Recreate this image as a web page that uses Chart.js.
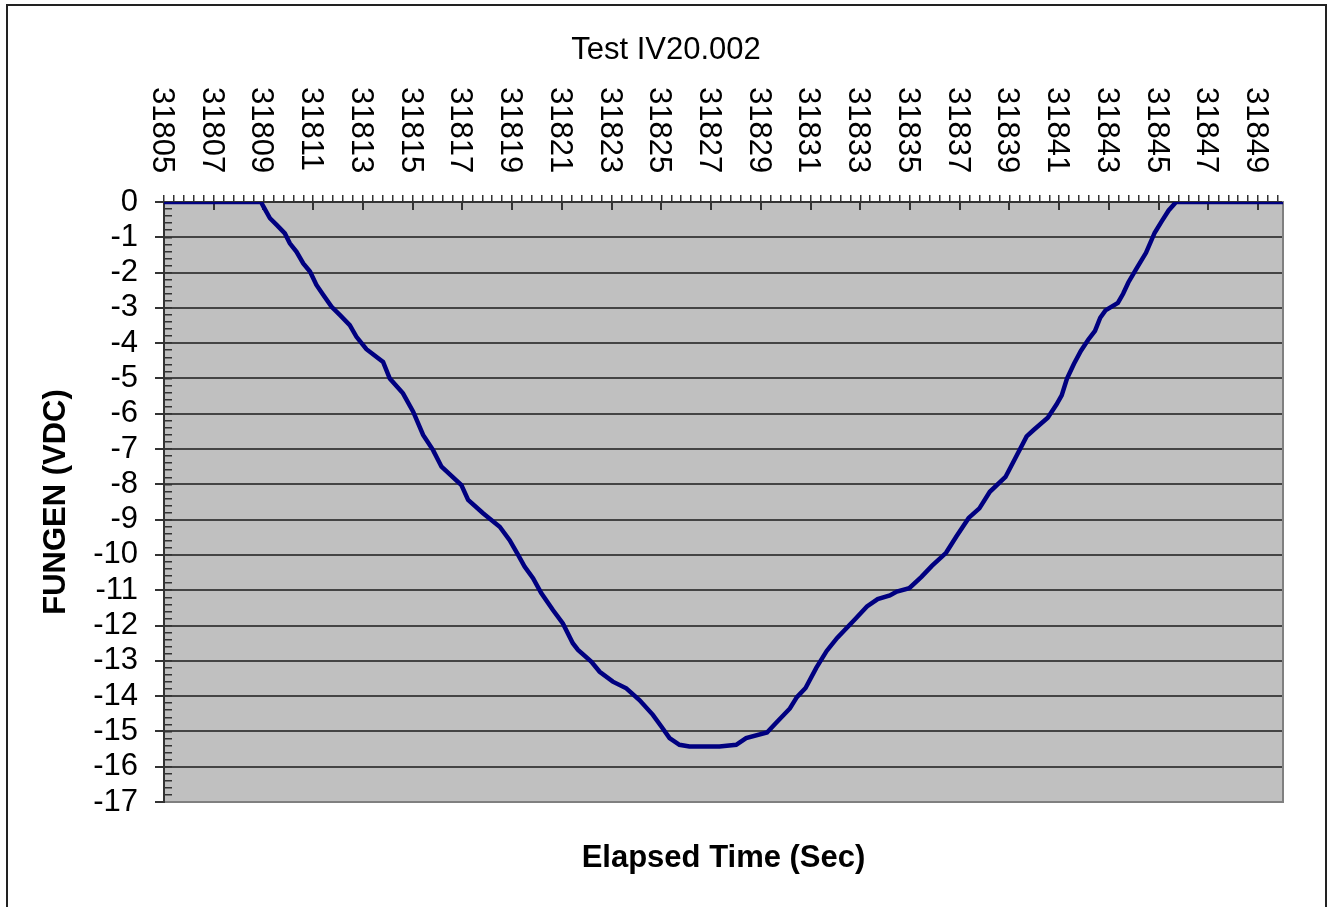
<!DOCTYPE html>
<html>
<head>
<meta charset="utf-8">
<title>Test IV20.002</title>
<script src="https://cdn.jsdelivr.net/npm/chart.js@4.4.0/dist/chart.umd.min.js"></script>
<style>
  body { margin: 0; background: #fff; }
  canvas { display: block; }
</style>
</head>
<body>
<canvas id="fungenChart" width="1332" height="907"></canvas>
<script>
// values (elapsed time in sec / FUNGEN in VDC)
const timeValues = [
  31805, 31807, 31808.9, 31809.0, 31809.26, 31809.53, 31809.86, 31810.06, 31810.33, 31810.6,
  31810.87, 31811.13, 31811.4, 31811.74, 31812.07, 31812.47, 31812.74, 31813.14, 31813.81, 31814.08,
  31814.61, 31815.02, 31815.42, 31815.82, 31816.16, 31816.96, 31817.23, 31817.83, 31818.5, 31818.9,
  31819.24, 31819.5, 31819.84, 31820.17, 31820.64, 31821.04, 31821.44, 31821.65, 31822.18, 31822.52,
  31823.05, 31823.59, 31824.12, 31824.66, 31825.0, 31825.33, 31825.73, 31826.13, 31827.34, 31828.01,
  31828.41, 31829.25, 31829.6, 31830.17, 31830.45, 31830.8, 31831.23, 31831.65, 31832.07, 31832.78,
  31833.27, 31833.7, 31834.19, 31834.47, 31834.97, 31835.46, 31835.88, 31836.45, 31836.87, 31837.36,
  31837.79, 31838.21, 31838.84, 31839.27, 31839.69, 31839.97, 31840.54, 31840.89, 31841.1, 31841.31,
  31841.59, 31841.87, 31842.16, 31842.44, 31842.65, 31842.86, 31843.36, 31843.57, 31843.78, 31844.13,
  31844.49, 31844.84, 31845.12, 31845.4, 31845.7, 31847, 31850
];
const fungenValues = [
  0, 0, 0, -0.13, -0.46, -0.65, -0.89, -1.17, -1.41, -1.74,
  -1.97, -2.35, -2.63, -2.97, -3.2, -3.49, -3.82, -4.17, -4.53, -5.0,
  -5.42, -5.94, -6.6, -7.03, -7.5, -8.02, -8.44, -8.82, -9.2, -9.58,
  -10.0, -10.33, -10.66, -11.08, -11.56, -11.94, -12.5, -12.69, -13.02, -13.31,
  -13.59, -13.78, -14.11, -14.53, -14.86, -15.19, -15.38, -15.43, -15.43, -15.38,
  -15.19, -15.03, -14.77, -14.35, -14.03, -13.77, -13.2, -12.72, -12.35, -11.83,
  -11.46, -11.25, -11.15, -11.04, -10.94, -10.62, -10.31, -9.94, -9.47, -8.95,
  -8.68, -8.21, -7.79, -7.21, -6.64, -6.46, -6.11, -5.74, -5.48, -5.01,
  -4.59, -4.22, -3.91, -3.65, -3.28, -3.07, -2.86, -2.6, -2.28, -1.86,
  -1.44, -0.87, -0.55, -0.24, 0, 0, 0
];
const xTickValues = [
  31805, 31807, 31809, 31811, 31813, 31815, 31817, 31819, 31821, 31823, 31825, 31827,
  31829, 31831, 31833, 31835, 31837, 31839, 31841, 31843, 31845, 31847, 31849
];
const yTickValues = [0, -1, -2, -3, -4, -5, -6, -7, -8, -9, -10, -11, -12, -13, -14, -15, -16, -17];

const FONT = "'Liberation Sans', Arial, sans-serif";
const X_MIN = 31805, X_MAX = 31850;
const Y_MIN = -17, Y_MAX = 0;
const AXIS_DARK = '#333333';
const GRID_DARK = '#444444';
const PLOT_EDGE = '#808080';
const TITLE_SIZE = 31;
const TITLE_PAD = 26;

// grey plot area and the outer frame
const framePlugin = {
  id: 'frame',
  beforeDraw(chart) {
    const { ctx, chartArea } = chart;
    ctx.save();
    ctx.fillStyle = '#C0C0C0';
    ctx.fillRect(chartArea.left, chartArea.top, chartArea.right - chartArea.left, chartArea.bottom - chartArea.top);
    ctx.strokeStyle = '#222222';
    ctx.lineWidth = 2;
    ctx.strokeRect(7, 5, 1319, 1000);
    ctx.restore();
  }
};

// top axis labels, turned 90deg clockwise like the original
const topLabelsPlugin = {
  id: 'topLabels',
  afterDraw(chart) {
    const scale = chart.scales.x;
    const ctx = chart.ctx;
    const size = 31;
    ctx.save();
    ctx.font = size + 'px ' + FONT;
    ctx.fillStyle = '#000';
    ctx.textAlign = 'left';
    ctx.textBaseline = 'alphabetic';
    scale.ticks.forEach(tick => {
      const px = scale.getPixelForValue(tick.value);
      ctx.save();
      ctx.translate(px, 87);
      ctx.rotate(Math.PI / 2);
      ctx.fillText(String(tick.value), 0, size * 0.358);
      ctx.restore();
    });
    ctx.restore();
  }
};

const points = timeValues.map((t, i) => ({ x: t, y: fungenValues[i] }));

const ctx = document.getElementById('fungenChart').getContext('2d');
new Chart(ctx, {
  type: 'line',
  data: {
    datasets: [{
      label: 'FUNGEN',
      data: points,
      xAxisID: 'x',
      yAxisID: 'y',
      borderColor: '#000080',
      borderWidth: 4.5,
      pointRadius: 0,
      tension: 0,
      fill: false
    }]
  },
  options: {
    responsive: false,
    devicePixelRatio: 1,
    animation: false,
    layout: { padding: { top: 6, right: 0, bottom: 0, left: 0 } },
    plugins: {
      legend: { display: false },
      tooltip: { enabled: false },
      title: {
        display: true,
        text: 'Test IV20.002',
        color: '#000',
        font: { family: FONT, size: TITLE_SIZE, weight: 'normal' },
        padding: { top: TITLE_PAD, bottom: 0 }
      }
    },
    scales: {
      x: {
        type: 'linear',
        position: 'top',
        weight: 1,
        min: X_MIN,
        max: X_MAX,
        afterBuildTicks: scale => { scale.ticks = xTickValues.map(v => ({ value: v })); },
        afterFit: scale => { scale.height = 202 - 6 - TITLE_PAD - TITLE_SIZE * 1.2; },
        ticks: { display: false },
        grid: { drawOnChartArea: false, tickLength: -8, color: AXIS_DARK, lineWidth: 2 },
        border: { display: true, color: AXIS_DARK, width: 2 }
      },
      xMinor: {
        type: 'linear',
        position: 'top',
        weight: 0,
        min: X_MIN,
        max: X_MAX,
        afterBuildTicks: scale => {
          const ticks = [];
          for (let k = 0; X_MIN + k * 0.4 <= X_MAX + 1e-6; k++) ticks.push({ value: X_MIN + k * 0.4 });
          scale.ticks = ticks;
        },
        afterFit: scale => { scale.height = 0; },
        ticks: { display: false },
        grid: { drawOnChartArea: false, tickLength: 7, color: AXIS_DARK, lineWidth: 1.5 },
        border: { display: false }
      },
      x2: {
        type: 'linear',
        position: 'bottom',
        min: X_MIN,
        max: X_MAX,
        afterFit: scale => { scale.height = 105; },
        ticks: { display: false },
        grid: { display: false },
        border: { display: true, color: PLOT_EDGE, width: 2 },
        title: {
          display: true,
          text: 'Elapsed Time (Sec)',
          color: '#000',
          font: { family: FONT, size: 31, weight: 'bold' },
          padding: { top: 0, bottom: 30 }
        }
      },
      y: {
        type: 'linear',
        position: 'left',
        weight: 1,
        min: Y_MIN,
        max: Y_MAX,
        afterBuildTicks: scale => { scale.ticks = yTickValues.map(v => ({ value: v })); },
        afterFit: scale => { scale.width = 164; },
        ticks: {
          color: '#000',
          padding: 17,
          autoSkip: false,
          font: { family: FONT, size: 31 },
          callback: v => String(v)
        },
        grid: {
          tickLength: 9,
          lineWidth: 2,
          color: c => (c.tick && c.tick.value === Y_MIN) ? PLOT_EDGE : GRID_DARK,
          tickColor: AXIS_DARK
        },
        border: { display: true, color: AXIS_DARK, width: 2 },
        title: {
          display: true,
          text: 'FUNGEN (VDC)',
          color: '#000',
          font: { family: FONT, size: 31, weight: 'bold' },
          padding: { top: 38, bottom: 0 }
        }
      },
      yMinor: {
        type: 'linear',
        position: 'left',
        weight: 0,
        min: Y_MIN,
        max: Y_MAX,
        afterBuildTicks: scale => {
          const ticks = [];
          for (let k = 0; k <= 85; k++) ticks.push({ value: Y_MIN + k * 0.2 });
          scale.ticks = ticks;
        },
        afterFit: scale => { scale.width = 0; },
        ticks: { display: false },
        grid: { drawOnChartArea: false, tickLength: -8, color: AXIS_DARK, lineWidth: 1.5 },
        border: { display: false }
      },
      y2: {
        type: 'linear',
        position: 'right',
        min: Y_MIN,
        max: Y_MAX,
        afterFit: scale => { scale.width = 49; },
        ticks: { display: false },
        grid: { display: false },
        border: { display: true, color: PLOT_EDGE, width: 2 }
      }
    }
  },
  plugins: [framePlugin, topLabelsPlugin]
});
</script>
</body>
</html>
